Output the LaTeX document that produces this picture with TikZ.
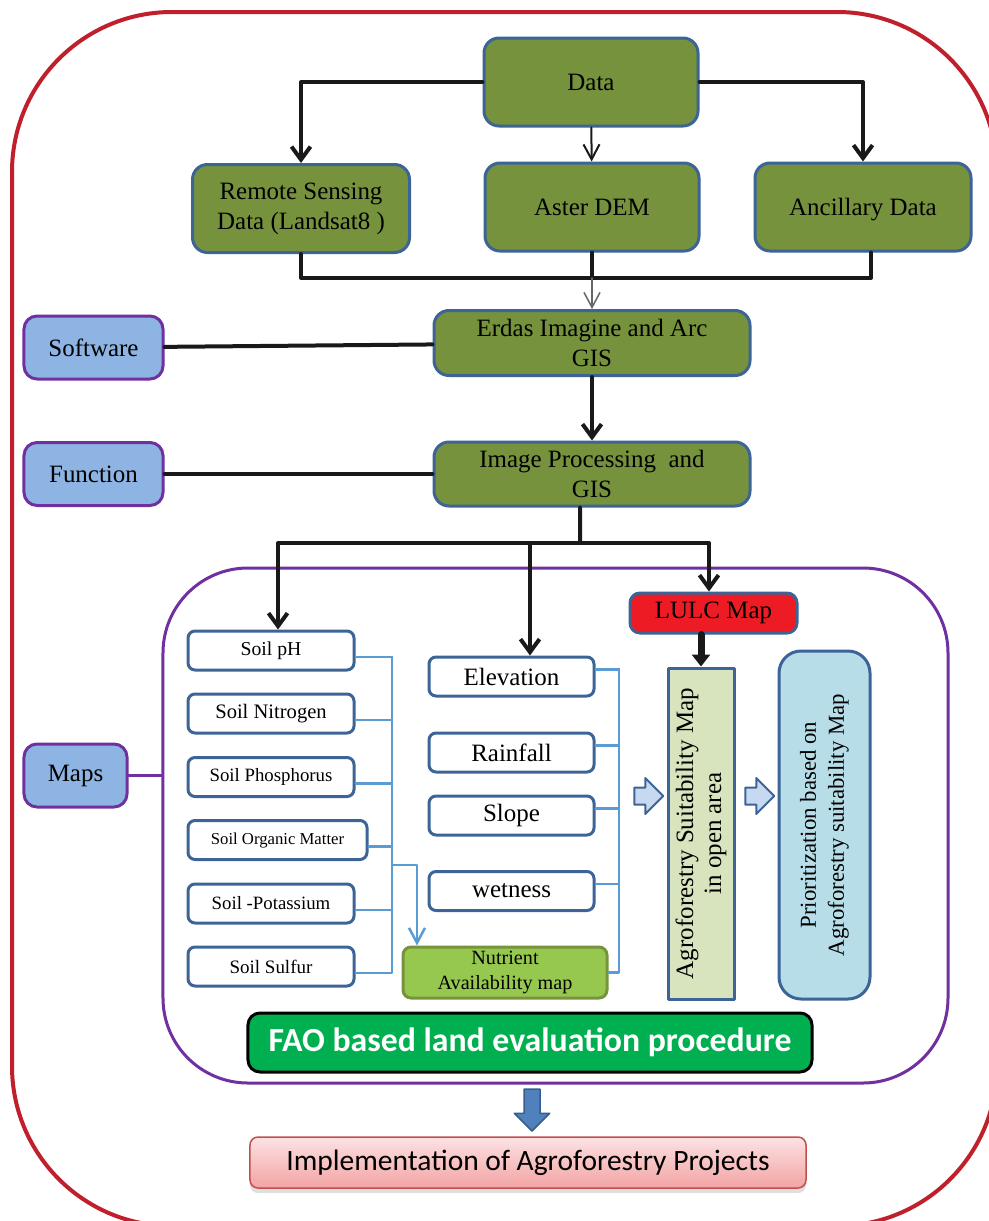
\documentclass[tikz,border=0pt]{standalone}
\usepackage{fontspec}
\setmainfont{Liberation Serif}
\newfontfamily\calibri{Carlito}
\usetikzlibrary{arrows.meta,shapes.arrows,shadows}
\definecolor{leaf}{RGB}{118,146,60}
\definecolor{edgeblue}{RGB}{60,100,150}
\definecolor{lilac}{RGB}{112,48,160}
\definecolor{sky}{RGB}{141,180,226}
\definecolor{framered}{RGB}{192,32,44}
\definecolor{wireblue}{RGB}{91,155,213}
\definecolor{nutgreen}{RGB}{150,200,80}
\definecolor{nutedge}{RGB}{119,147,60}
\definecolor{lulcred}{RGB}{237,28,36}
\definecolor{sage}{RGB}{215,228,189}
\definecolor{powder}{RGB}{183,222,232}
\definecolor{faogreen}{RGB}{0,176,80}
\definecolor{pinktop}{RGB}{252,226,227}
\definecolor{pinkbot}{RGB}{243,163,163}
\definecolor{pinkedge}{RGB}{192,80,77}
\definecolor{paleblue}{RGB}{198,217,241}
\definecolor{steel}{RGB}{79,129,189}
\definecolor{steeledge}{RGB}{56,93,138}
\begin{document}
\begin{tikzpicture}[x=.2mm,y=-.2mm,font=\fontsize{14.2}{17}\selectfont,line cap=round,line join=round,
  >={Straight Barb[length=2.6mm,width=3.8mm]},
  greenbox/.style={draw=edgeblue,line width=.6mm,fill=leaf,rounded corners=3mm,align=center,inner sep=.8mm},
  sidebox/.style={draw=lilac,line width=.6mm,fill=sky,rounded corners=2.6mm,minimum width=27.8mm,minimum height=12.6mm},
  soilbox/.style={draw=edgeblue,line width=.6mm,fill=white,rounded corners=1.4mm,minimum width=33.2mm,minimum height=7.8mm,inner sep=0pt},
  link/.style={line width=.8mm,draw=black!90},
  thinlink/.style={line width=.4mm,draw=black!90,-{Straight Barb[length=3mm,width=3.2mm]}},
  wire/.style={draw=wireblue,line width=.5mm},
  hollow/.style={single arrow,draw=edgeblue,line width=.4mm,fill=paleblue,minimum height=5.8mm,minimum width=6.8mm,
    single arrow head extend=1.9mm,inner xsep=0pt,inner ysep=1.5mm}]
\useasboundingbox (0,0) rectangle (989,1221);
% outer frame
\begin{scope}
\clip (0,0) rectangle (989,1221);
\draw[framered,line width=.8mm,rounded corners=32mm] (12,12) rectangle (997,1226);
\end{scope}
\node[draw=lilac,line width=.6mm,rounded corners=17mm,minimum width=157mm,minimum height=103mm] (mapframe) at (555.5,825.5) {};
% data sources
\node[greenbox,minimum width=42.8mm,minimum height=17.6mm] (data) at (591,82) {Data};
\node[greenbox,minimum width=43.4mm,minimum height=17.6mm] (rs) at (301,208.5) {Remote Sensing\\Data (Landsat8 )};
\node[greenbox,minimum width=42.8mm,minimum height=17.6mm] (dem) at (592,207) {Aster DEM};
\node[greenbox,minimum width=43.2mm,minimum height=17.6mm,text depth=0pt] (anc) at (863,207) {Ancillary Data};
\node[greenbox,minimum width=63.2mm,minimum height=13mm] (gis) at (592,343) {Erdas Imagine and Arc\\GIS};
\node[greenbox,minimum width=63.2mm,minimum height=12.8mm] (proc) at (592,474) {Image Processing\ \ and\\GIS};
\node[sidebox] (soft) at (93.5,347.5) {Software};
\node[sidebox] (func) at (93.5,474) {Function};
\node[sidebox,minimum width=20.6mm] (maps) at (75.5,775.5) {Maps};
% maps
\node[soilbox,font=\fontsize{11.2}{13}\selectfont] (ph) at (271,650.5) {Soil pH};
\node[soilbox,font=\fontsize{11.7}{13}\selectfont] (nitro) at (271,713.5) {Soil Nitrogen};
\node[soilbox,font=\fontsize{10.7}{13}\selectfont] (phos) at (271,777) {Soil Phosphorus};
\node[soilbox,minimum width=35.8mm,font=\fontsize{9.5}{12}\selectfont] (om) at (277.5,840) {Soil Organic Matter};
\node[soilbox,font=\fontsize{10.7}{13}\selectfont] (pot) at (271,903.5) {Soil -Potassium};
\node[soilbox,font=\fontsize{10.8}{13}\selectfont] (sul) at (271,966.5) {Soil Sulfur};
\node[soilbox,minimum width=33mm] (elev) at (511.5,676.5) {Elevation};
\node[soilbox,minimum width=33mm] (rain) at (511.5,752.5) {Rainfall};
\node[soilbox,minimum width=33mm] (slope) at (511.5,815.5) {Slope};
\node[soilbox,minimum width=33mm] (wet) at (511.5,891) {wetness};
\node[draw=nutedge,fill=nutgreen,line width=.6mm,rounded corners=1.6mm,minimum width=40.8mm,minimum height=10.2mm,align=center,inner sep=0pt,font=\fontsize{11.5}{14.2}\selectfont] (nut) at (505,972.5) {Nutrient\\Availability map};
\node[draw=edgeblue,fill=lulcred,line width=.6mm,rounded corners=2mm,minimum width=33.4mm,minimum height=8mm,inner sep=0pt] (lulc) at (713.5,613) {LULC Map};
\node[rotate=90,draw=edgeblue,fill=sage,line width=.6mm,minimum width=66.2mm,minimum height=13.2mm,align=center,inner sep=0pt,font=\fontsize{14.2}{15.9}\selectfont] (suit) at (701,833.5) {Agroforestry Suitability Map\\in open area};
\node[rotate=90,draw=edgeblue,fill=powder,line width=.6mm,rounded corners=4.4mm,minimum width=69.6mm,minimum height=18.2mm,align=center,inner sep=0pt,font=\fontsize{13}{15.9}\selectfont] (rank) at (824.5,825) {Prioritization based on\\Agroforestry suitability Map};
\node[hollow] (push1) at (644.5,796) {};
\node[hollow] (push2) at (755.5,796) {};
\node[draw=black,line width=.6mm,fill=faogreen,rounded corners=2.4mm,minimum width=112.8mm,minimum height=11.8mm,text=white,font=\calibri\bfseries\fontsize{19.2}{22}\selectfont] (fao) at (530,1042.5) {FAO based land evaluation procedure};
\node[single arrow,rotate=-90,draw=steeledge,fill=steel,line width=.3mm,minimum height=8.4mm,minimum width=6.8mm,single arrow head extend=1.95mm,inner xsep=0pt,inner ysep=1.45mm] (down) at (532,1106) {};
\node[draw=pinkedge,line width=.3mm,top color=pinktop,bottom color=pinkbot,rounded corners=1.6mm,minimum width=111.2mm,minimum height=10.2mm,drop shadow={opacity=.25,shadow xshift=0mm,shadow yshift=-1mm},font=\calibri\fontsize{16.8}{20}\selectfont] (impl) at (528,1162.5) {Implementation of Agroforestry Projects};
% connectors
\draw[link,->] (data.west) -| (rs.north);
\draw[link,->] (data.east) -| (anc.north);
\draw[thinlink] (data) -- (dem);
\coordinate (merge) at (592,278);
\draw[link] (rs.south) |- (merge) -| ([xshift=1.6mm]anc.south);
\draw[link] (dem) -- (merge);
\draw[thinlink,draw=black!60,line width=.3mm] (merge) -- (gis);
\draw[link] (soft) -- (gis);
\draw[link,->] (gis) -- (proc);
\draw[link] (func) -- (proc);
\coordinate (split) at (580,543);
\coordinate (elevtop) at ([xshift=3.7mm]elev.north);
\draw[link] ([xshift=-2.4mm]proc.south) -- (split);
\draw[link,->] (split) -| ([xshift=1.4mm]ph.north);
\draw[link,->] (split) -| ([xshift=-.9mm]lulc.north);
\draw[link,->] (elevtop |- split) -- (elevtop);
\draw[line width=1.4mm,draw=black!90,-{Triangle[length=2.4mm,width=3.6mm]}] (lulc.south -| suit.east) -- (suit.east);
\coordinate (soilbus) at (392,657);
\coordinate (soiltap) at (392,865);
\foreach \s in {ph,nitro,phos,om,pot,sul} \draw[wire] ([yshift=-1.3mm]\s.east) -| (soilbus);
\draw[wire,-{Straight Barb[length=3mm,width=3.2mm]}] (soiltap) -| ([xshift=-17.6mm]nut.north);
\coordinate (topobus) at (619,669);
\foreach \t in {elev,rain,slope,wet} \draw[wire] ([yshift=1.4mm]\t.east) -| (topobus);
\draw[wire] (nut.east) -| (topobus);
\draw[lilac,line width=.5mm] (maps) -- (maps -| mapframe.west);
\end{tikzpicture}
\end{document}
